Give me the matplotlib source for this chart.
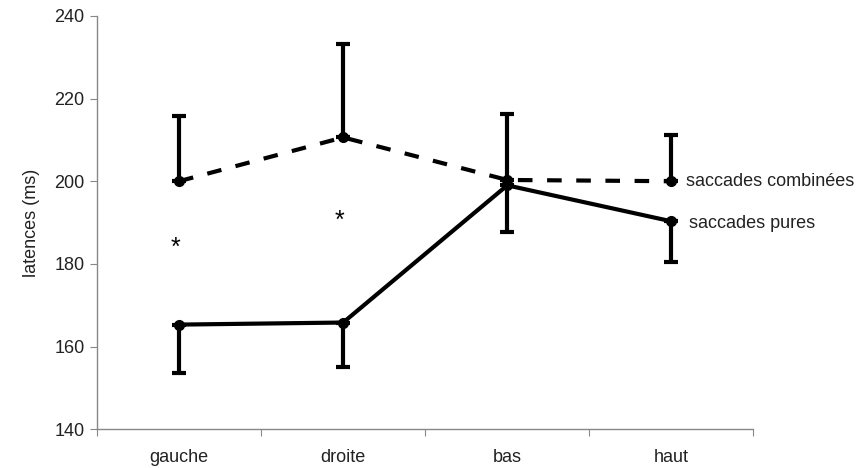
import matplotlib
matplotlib.use('Agg')
import matplotlib.pyplot as plt

plt.rcParams['font.family'] = ['Liberation Sans', 'DejaVu Sans']

categories = ['gauche', 'droite', 'bas', 'haut']
combinees = [200.0, 210.6, 200.3, 200.0]
combinees_err = [15.8, 22.6, 16.0, 11.2]
pures = [165.3, 165.8, 199.0, 190.3]
pures_err = [11.7, 10.8, 11.3, 9.8]
star_cats = [0, 1]
star_y = [183.8, 190.3]

fig = plt.figure(figsize=(8.59, 4.68), dpi=100)
ax = fig.add_axes([0.113, 0.083, 0.764, 0.883])

xpos = [i + 0.5 for i in range(len(categories))]

# saccades combinees : dashed line, error bars upward only
ax.errorbar(xpos, combinees, yerr=[[0] * 4, combinees_err], color='black',
            linewidth=3, linestyle=(0, (3.5, 3.5)), marker='o', markersize=7,
            elinewidth=3, capsize=5, capthick=3, dash_capstyle='butt')
# saccades pures : solid line, error bars downward only
ax.errorbar(xpos, pures, yerr=[pures_err, [0] * 4], color='black',
            linewidth=3, marker='o', markersize=7,
            elinewidth=3, capsize=5, capthick=3)

for c, y in zip(star_cats, star_y):
    ax.text(xpos[c] - 0.025, y, '*', ha='center', va='center', fontsize=18)

ax.text(xpos[3] + 0.09, combinees[3], 'saccades combinées', ha='left',
        va='center', fontsize=13, color='#222222', clip_on=False)
ax.text(xpos[3] + 0.11, pures[3] - 0.6, 'saccades pures', ha='left',
        va='center', fontsize=13, color='#222222', clip_on=False)

ax.set_xlim(0, 4)
ax.set_ylim(140, 240)
ax.set_yticks(range(140, 241, 20))
ax.set_xticks(range(0, 5))
ax.set_xticklabels([])
ax.set_xticks(xpos, minor=True)
ax.set_xticklabels(categories, minor=True)
ax.tick_params(axis='x', which='minor', length=0, pad=14, labelsize=13,
               labelcolor='#222222')
ax.tick_params(axis='x', which='major', length=5, color='#888888')
ax.tick_params(axis='y', length=5, color='#888888', labelsize=13, pad=4,
               labelcolor='#222222')
ax.set_ylabel('latences (ms)', fontsize=13, labelpad=10, color='#222222')

for s in ['top', 'right']:
    ax.spines[s].set_visible(False)
for s in ['left', 'bottom']:
    ax.spines[s].set_color('#888888')
    ax.spines[s].set_linewidth(1)

fig.savefig('out.png', dpi=100)
